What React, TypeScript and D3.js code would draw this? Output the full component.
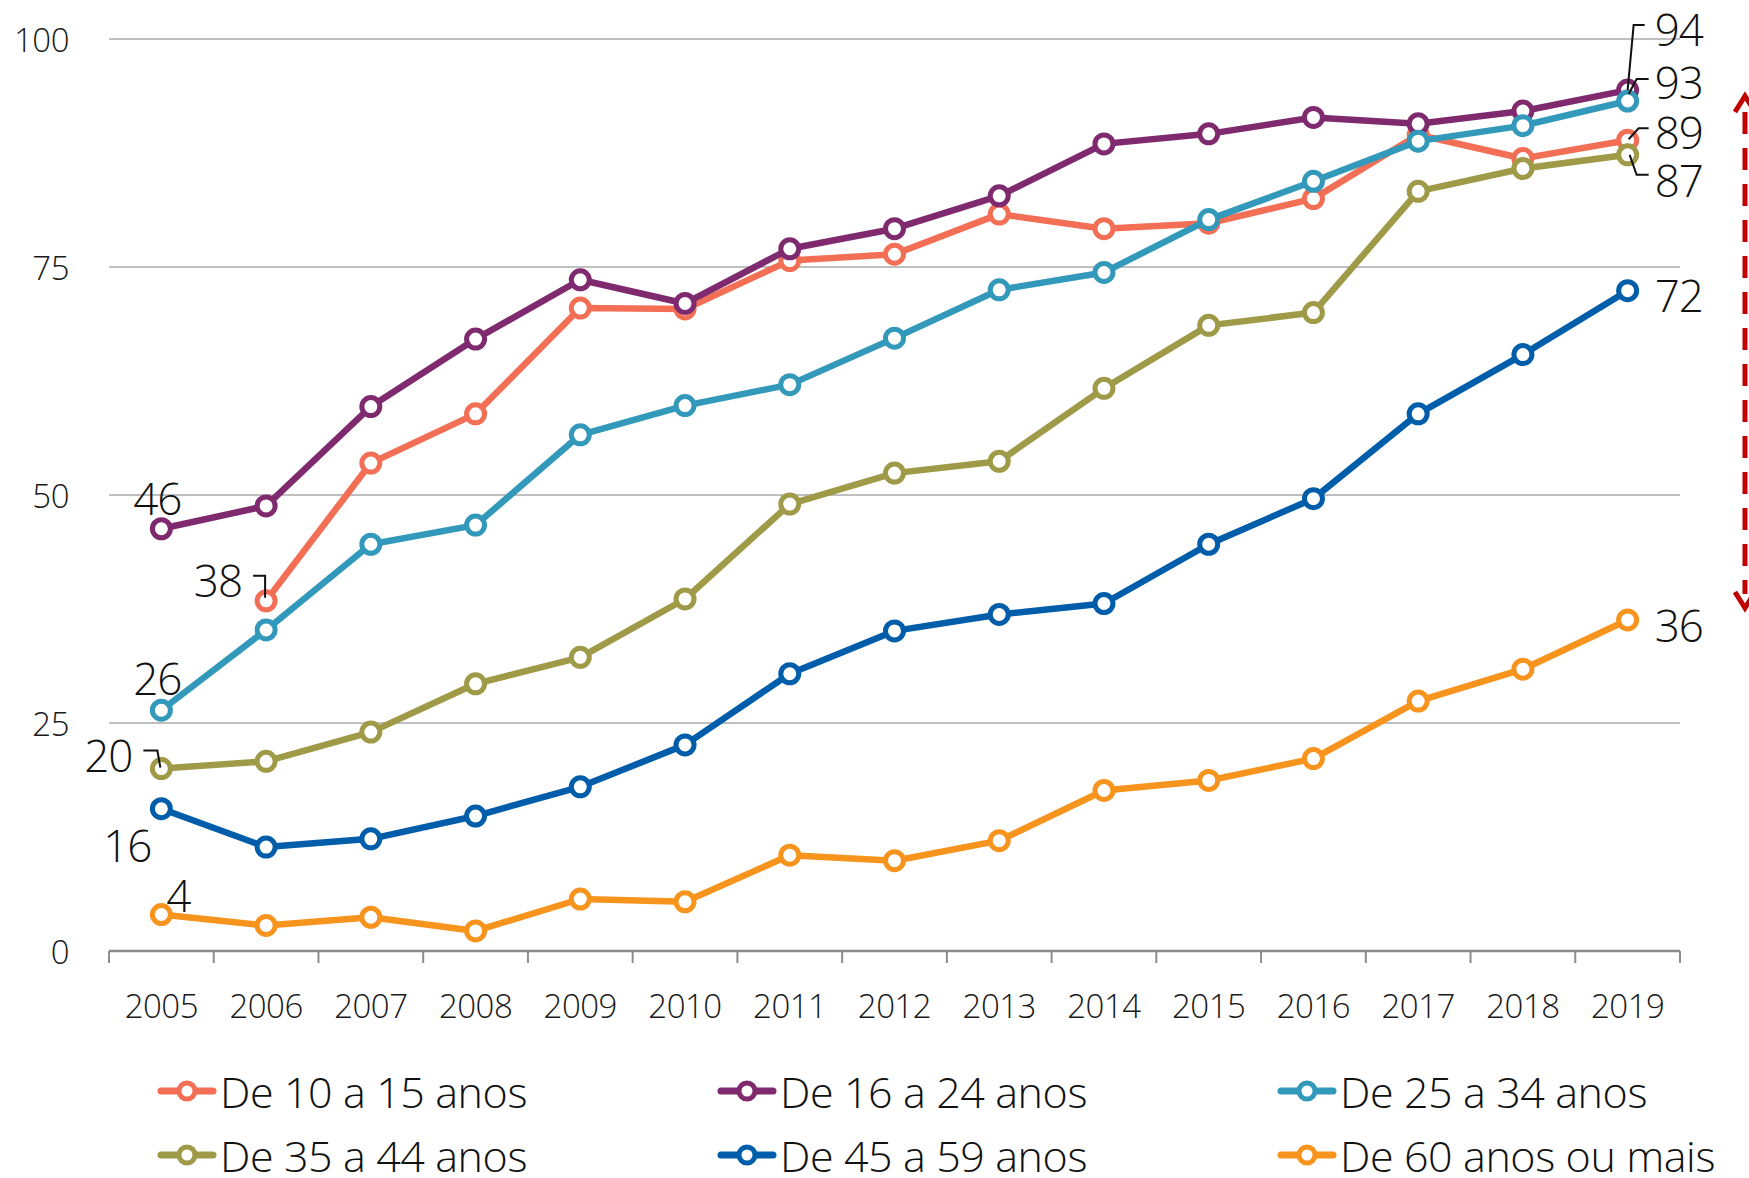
import * as d3 from "d3";

const years = [2005, 2006, 2007, 2008, 2009, 2010, 2011, 2012, 2013, 2014, 2015, 2016, 2017, 2018, 2019];

// percentuais por faixa etaria (null = sem dado)
const age10to15 = [null, 38.4, 53.5, 58.9, 70.5, 70.4, 75.7, 76.4, 80.8, 79.2, 79.8, 82.5, 89.5, 86.9, 88.9];
const age16to24 = [46.3, 48.8, 59.7, 67.1, 73.6, 71.0, 77.0, 79.2, 82.8, 88.5, 89.6, 91.4, 90.7, 92.1, 94.4];
const age25to34 = [26.4, 35.2, 44.6, 46.7, 56.6, 59.8, 62.1, 67.2, 72.5, 74.4, 80.2, 84.4, 88.8, 90.5, 93.2];
const age35to44 = [20.0, 20.8, 24.0, 29.3, 32.2, 38.6, 49.0, 52.4, 53.7, 61.7, 68.6, 70.0, 83.3, 85.8, 87.3];
const age45to59 = [15.6, 11.4, 12.3, 14.8, 18.0, 22.6, 30.4, 35.1, 36.9, 38.1, 44.6, 49.6, 58.9, 65.4, 72.4];
const age60plus = [4.0, 2.8, 3.7, 2.2, 5.7, 5.4, 10.5, 9.9, 12.1, 17.6, 18.7, 21.1, 27.4, 30.9, 36.3];

const seriesNames = [
  "De 10 a 15 anos",
  "De 16 a 24 anos",
  "De 25 a 34 anos",
  "De 35 a 44 anos",
  "De 45 a 59 anos",
  "De 60 anos ou mais",
];
const seriesColors = ["#F26F55", "#7F2A6E", "#3399BB", "#9E9A47", "#005DAA", "#F7941D"];
const seriesValues = [age10to15, age16to24, age25to34, age35to44, age45to59, age60plus];

const yTicks = [0, 25, 50, 75, 100];

// rotulos de dados: serie, ano
const labelPoints: [number, number][] = [
  [1, 2005], [0, 2006], [2, 2005], [3, 2005], [4, 2005], [5, 2005],
  [1, 2019], [2, 2019], [0, 2019], [3, 2019], [4, 2019], [5, 2019],
];

export default function App() {
  const width = 1749,
    height = 1178,
    left = 109,
    right = 1680,
    top = 39,
    bottom = 951,
    lineWidth = 6.5,
    markerR = 9,
    font = "'Open Sans', 'Noto Sans', sans-serif";

  const x = d3.scaleBand<number>().domain(years).range([left, right]).padding(0);
  const cx = (yr: number) => (x(yr) as number) + x.bandwidth() / 2;
  const y = d3.scaleLinear().domain([0, 100]).range([bottom, top]);

  const line = d3
    .line<number | null>()
    .defined((d) => d != null)
    .x((_, i) => cx(years[i]))
    .y((d) => y(d as number));

  const boundaries = years.map((yr) => x(yr) as number).concat([right]);

  // layout of each data label relative to its point: dx, dy, anchor, connector
  const labelLayout: { dx: number; dy: number; anchor: string; path?: (px: number, py: number) => string }[] = [
    { dx: -4, dy: -31, anchor: "middle" },
    { dx: -24, dy: -21, anchor: "end", path: (px, py) => `M${px - 13},${py - 25}H${px - 1}V${py - 3}` },
    { dx: -4, dy: -32, anchor: "middle" },
    { dx: -29, dy: -14, anchor: "end", path: (px, py) => `M${px - 18},${py - 18}H${px - 4}L${px - 1},${py - 1}` },
    { dx: -34, dy: 36, anchor: "middle" },
    { dx: 17, dy: -20, anchor: "middle" },
    { dx: 27, dy: -61, anchor: "start", path: (px, py) => `M${px + 17},${py - 65}H${px + 6}L${px},${py}` },
    { dx: 27, dy: -19, anchor: "start", path: (px, py) => `M${px + 21},${py - 22}H${px + 9}L${px + 1},${py - 7}` },
    { dx: 27, dy: -8, anchor: "start", path: (px, py) => `M${px + 21},${py - 12}H${px + 11}L${px + 1},${py - 1}` },
    { dx: 27, dy: 25, anchor: "start", path: (px, py) => `M${px + 2},${py}L${px + 9},${py + 20}H${px + 21}` },
    { dx: 27, dy: 4, anchor: "start" },
    { dx: 27, dy: 5, anchor: "start" },
  ];

  return (
    <div style={{ position: "absolute", left: 0, top: 0 }}>
      <svg width={width} height={height} viewBox={`0 0 ${width} ${height}`} style={{ display: "block", background: "#fff" }}>
        {/* gridlines */}
        {yTicks
          .filter((t) => t > 0)
          .map((t) => (
            <line key={t} x1={left} x2={right} y1={y(t)} y2={y(t)} stroke="#BFBFBF" strokeWidth={2} />
          ))}
        {/* y labels */}
        {yTicks.map((t) => (
          <text
            key={t}
            x={69}
            y={y(t)}
            textAnchor="end"
            dominantBaseline="central"
            fontFamily={font}
            fontWeight={300}
            fontSize={33}
            letterSpacing={-0.5}
            fill="#1a1a1a"
          >
            {t}
          </text>
        ))}
        {/* x axis */}
        <line x1={left} x2={right} y1={bottom} y2={bottom} stroke="#8C8C8C" strokeWidth={2.5} />
        {boundaries.map((b, i) => (
          <line key={i} x1={b} x2={b} y1={bottom} y2={bottom + 12} stroke="#8C8C8C" strokeWidth={2} />
        ))}
        {years.map((yr) => (
          <text
            key={yr}
            x={cx(yr)}
            y={1005}
            textAnchor="middle"
            dominantBaseline="central"
            fontFamily={font}
            fontWeight={300}
            fontSize={33}
            letterSpacing={-0.5}
            fill="#1a1a1a"
          >
            {yr}
          </text>
        ))}

        {/* series */}
        {seriesValues.map((vals, s) => (
          <g key={s}>
            <path d={line(vals) || ""} fill="none" stroke={seriesColors[s]} strokeWidth={lineWidth} strokeLinejoin="round" />
            {vals.map((v, i) =>
              v == null ? null : (
                <circle
                  key={i}
                  cx={cx(years[i])}
                  cy={y(v)}
                  r={markerR}
                  fill="#fff"
                  stroke={seriesColors[s]}
                  strokeWidth={5}
                />
              )
            )}
          </g>
        ))}

        {/* data labels */}
        {labelPoints.map(([s, yr], k) => {
          const i = years.indexOf(yr);
          const v = seriesValues[s][i] as number;
          const px = cx(yr),
            py = y(v);
          const L = labelLayout[k];
          return (
            <g key={k}>
              {L.path && <path d={L.path(px, py)} fill="none" stroke="#111" strokeWidth={2} />}
              <text
                x={px + L.dx}
                y={py + L.dy}
                textAnchor={L.anchor}
                dominantBaseline="central"
                fontFamily={font}
                fontWeight={300}
                fontSize={44}
                letterSpacing={-1}
                fill="#111"
              >
                {Math.round(v)}
              </text>
            </g>
          );
        })}

        {/* red dashed double arrow */}
        <line x1={1745} x2={1745} y1={112} y2={594} stroke="#C00000" strokeWidth={5} strokeDasharray="22 14" />
        <path d="M1735,112L1745,96L1755,112" fill="none" stroke="#C00000" strokeWidth={5} />
        <path d="M1735,592L1745,608L1755,592" fill="none" stroke="#C00000" strokeWidth={5} />

        {/* legend */}
        {seriesNames.map((name, s) => {
          const col = s % 3,
            row = Math.floor(s / 3);
          const lx = 158 + col * 560,
            ly = 1091 + row * 64;
          return (
            <g key={name}>
              <line x1={lx + 3} x2={lx + 55} y1={ly} y2={ly} stroke={seriesColors[s]} strokeWidth={7} strokeLinecap="round" />
              <circle cx={lx + 29} cy={ly} r={8} fill="#fff" stroke={seriesColors[s]} strokeWidth={5} />
              <text
                x={lx + 62}
                y={ly}
                dominantBaseline="central"
                fontFamily={font}
                fontWeight={300}
                fontSize={43}
                letterSpacing={-0.4}
                fill="#111"
              >
                {name}
              </text>
            </g>
          );
        })}
      </svg>
    </div>
  );
}
